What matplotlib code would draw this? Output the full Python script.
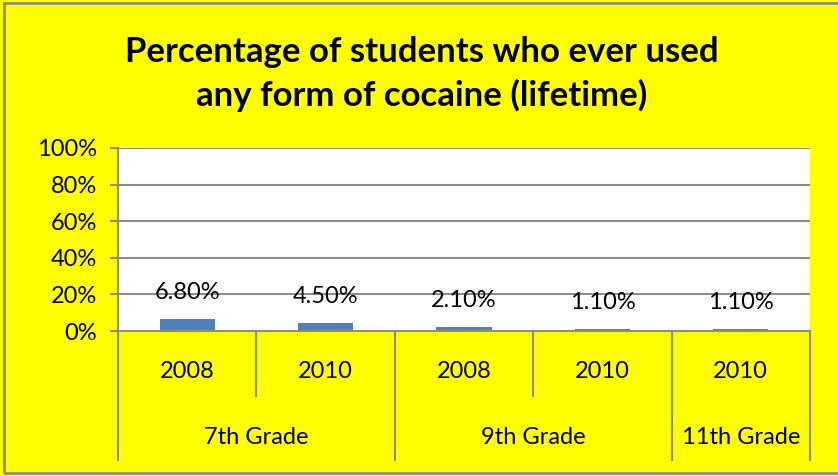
import numpy as np
import matplotlib.pyplot as plt
from matplotlib.patches import Rectangle

# Datos del gráfico
anios = ['2008', '2010', '2008', '2010', '2010']
grados = ['7th Grade', '9th Grade', '11th Grade']
grado_span = [2, 2, 1]
valores = [6.8, 4.5, 2.1, 1.1, 1.1]
etiquetas = ['6.80%', '4.50%', '2.10%', '1.10%', '1.10%']
yticks = [0, 20, 40, 60, 80, 100]

AMARILLO = '#FFFF00'
AZUL = '#4F81BD'
GRIS = '#8C8C8C'
FUENTE = 'Lato'
TAM = 17

fig = plt.figure(figsize=(8.38, 4.76), dpi=100, facecolor=AMARILLO)
W, H = 838, 476
x0, x1, y_top, y_bot = 118, 810, 148, 331
alto = y_bot - y_top
ax = fig.add_axes([x0 / W, 1 - y_bot / H, (x1 - x0) / W, alto / H])
ax.set_facecolor('white')

x = np.arange(len(valores))
ax.bar(x, valores, width=0.4, color=AZUL, zorder=3)
ax.set_xlim(-0.5, len(valores) - 0.5)
ax.set_ylim(0, 100)

for xi, v, lab in zip(x, valores, etiquetas):
    ax.annotate(lab, (xi, v), xytext=(0, 19), textcoords='offset points',
                ha='center', va='center', fontsize=TAM, family=FUENTE, color='black')

# Eje Y
ax.set_yticks(yticks)
ax.set_yticklabels([f'{t}%' for t in yticks], fontsize=TAM, family=FUENTE)
ax.tick_params(axis='y', length=6, width=1.5, color=GRIS, pad=9)
ax.set_xticks([])
for t in yticks[1:]:
    ax.axhline(t, color=GRIS, lw=1.5, zorder=1)
for s in ['top', 'right', 'bottom', 'left']:
    ax.spines[s].set_visible(False)

# Tabla de categorías (dos niveles)
trans = ax.get_xaxis_transform()
y_fila1 = -(396 - y_bot) / alto
y_fila2 = -(460 - y_bot) / alto
ax.plot([-0.5, -0.5], [1, y_fila2], color=GRIS, lw=1.5, transform=trans, clip_on=False)
ax.plot([-0.5, len(valores) - 0.5], [0, 0], color=GRIS, lw=1.5, transform=trans, clip_on=False, zorder=4)

limites = np.cumsum([0] + grado_span) - 0.5
for i in range(1, len(valores) + 1):
    xs = i - 0.5
    fondo = y_fila2 if xs in limites else y_fila1
    ax.plot([xs, xs], [0, fondo], color=GRIS, lw=1.5, transform=trans, clip_on=False)

y_txt1 = -(372 - y_bot) / alto
y_txt2 = -(437 - y_bot) / alto
for xi, a in zip(x, anios):
    ax.text(xi, y_txt1, a, ha='center', va='center', fontsize=TAM,
            family=FUENTE, transform=trans)
for k, g in enumerate(grados):
    centro = (limites[k] + limites[k + 1]) / 2
    ax.text(centro, y_txt2, g, ha='center', va='center', fontsize=TAM,
            family=FUENTE, transform=trans)

# Título
fig.text(422 / W, 1 - 74 / H, 'Percentage of students who ever used\nany form of cocaine (lifetime)',
         ha='center', va='center', fontsize=25, fontweight='bold', family=FUENTE,
         linespacing=1.42)

# Borde exterior
fig.patches.append(Rectangle((4 / W, 3 / H), 1.0, 1 - 6 / H, transform=fig.transFigure,
                             fill=False, edgecolor=GRIS, lw=2, clip_on=False))

fig.savefig('out.png', dpi=100, facecolor=AMARILLO)
